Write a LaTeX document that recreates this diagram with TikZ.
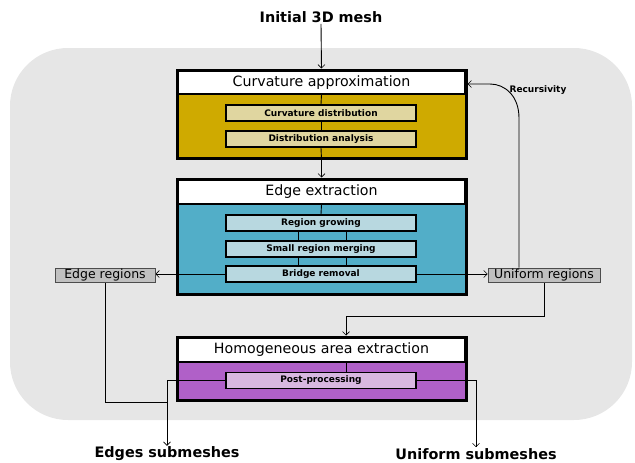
\documentclass[tikz,border=0pt]{standalone}
\usepackage{fontspec}
\setmainfont{DejaVu Sans}
\usetikzlibrary{arrows.meta}
\definecolor{bggray}{RGB}{230,230,230}
\definecolor{yellowbody}{RGB}{207,170,0}
\definecolor{yellowstep}{RGB}{224,214,160}
\definecolor{bluebody}{RGB}{82,174,200}
\definecolor{bluestep}{RGB}{184,216,224}
\definecolor{purplebody}{RGB}{176,96,200}
\definecolor{purplestep}{RGB}{216,184,224}
\definecolor{tagfill}{RGB}{192,192,192}
\pgfdeclarelayer{back}
\pgfdeclarelayer{mid}
\pgfsetlayers{back,mid,main}
\tikzset{
  stagebox/.style={draw=black, line width=3pt, minimum width=289pt, inner sep=0pt},
  titlebox/.style={draw=black, line width=1.5pt, fill=white, minimum width=287pt,
    inner sep=0pt, font=\fontsize{14.2}{16}\selectfont, anchor=north},
  stepbox/.style={draw=black, line width=1.5pt, minimum width=190pt, minimum height=16pt,
    inner sep=0pt, font=\bfseries\fontsize{9}{10}\selectfont},
  tagbox/.style={draw=black!70, line width=0.8pt, fill=tagfill, minimum height=14pt,
    inner sep=0pt, font=\fontsize{12.5}{13}\selectfont},
  biglabel/.style={font=\bfseries\fontsize{14.4}{16}\selectfont, inner sep=1pt},
  conn/.style={draw=black, line width=0.9pt},
  arr/.style={conn, -{Straight Barb[length=3.5pt,width=7pt,line width=0.6pt]}}
}
\begin{document}
\begin{tikzpicture}[x=1pt,y=-1pt]
\useasboundingbox (0,0) rectangle (635,463);

\begin{pgfonlayer}{back}
  \fill[bggray, rounded corners=58pt] (10,48) rectangle (632,420);
  % stage bodies
  \node[stagebox, fill=yellowbody, minimum height=88pt] (ca) at (321.5,114) {};
  \node[stagebox, fill=bluebody, minimum height=115pt] (ee) at (321.5,236.5) {};
  \node[stagebox, fill=purplebody, minimum height=63pt] (ha) at (321.5,368.5) {};
\end{pgfonlayer}

% stage titles
\node[titlebox, minimum height=23pt] (cat) at ([yshift=-1.5pt]ca.north) {Curvature approximation};
\node[titlebox, minimum height=24pt] (eet) at ([yshift=-1.5pt]ee.north) {Edge extraction};
\node[titlebox, minimum height=24pt] (hat) at ([yshift=-1.5pt]ha.north) {Homogeneous area extraction};

% inner steps
\node[stepbox, fill=yellowstep] (cd) at (321,113) {Curvature distribution};
\node[stepbox, fill=yellowstep] (da) at (321,139) {Distribution analysis};
\node[stepbox, fill=bluestep] (rg) at (321,223) {Region growing};
\node[stepbox, fill=bluestep] (sm) at (321,249) {Small region merging};
\node[stepbox, fill=bluestep] (br) at (321,274) {Bridge removal};
\node[stepbox, fill=purplestep] (pp) at (321,380.5) {Post-processing};

% side outputs
\node[tagbox, minimum width=100pt] (er) at (105,275) {Edge regions};
\node[tagbox, minimum width=112pt] (ur) at (544,275) {Uniform regions};

% external labels
\node[biglabel] (init) at (321,17) {Initial 3D mesh};
\node[biglabel] (esub) at (167,454) {Edges submeshes};
\node[biglabel] (usub) at (476,454) {Uniform submeshes};
\node[font=\bfseries\fontsize{9}{10}\selectfont] (rec) at (538,90) {Recursivity};

\coordinate (ejoin) at (167,402);
\coordinate (recturn) at (519,118);
\coordinate (recbend) at (490,84);
\coordinate (uturn) at (346,316);

\begin{pgfonlayer}{mid}
  \draw[arr] (init.south) -- (ca.north);
  \draw[conn] (cat.south) -- (cd.north);
  \draw[conn] (cd.south) -- (da.north);
  \draw[conn] (da.south) -- (ca.south);
  \draw[arr] (ca.south) -- (ee.north);
  \draw[conn] (eet.south) -- (rg.north);
  \draw[conn] ([xshift=-23pt]rg.south) -- ([xshift=-23pt]sm.north);
  \draw[conn] ([xshift=25pt]rg.south) -- ([xshift=25pt]sm.north);
  \draw[conn] ([xshift=-23pt]sm.south) -- ([xshift=-23pt]br.north);
  \draw[conn] ([xshift=25pt]sm.south) -- ([xshift=25pt]br.north);
  \draw[arr] (br.west) -- (br.west -| er.east);
  \draw[arr] (br.east) -- (br.east -| ur.west);
  % recursive loop back to curvature approximation
  \draw[arr] (ur.north -| recturn) -- (recturn)
     .. controls (519,96) and (505,84) .. (recbend) -- (recbend -| ca.east);
  % uniform regions feed the homogeneous area extraction
  \draw[arr] (ur.south) |- (uturn) -- (uturn |- ha.north);
  \draw[conn] (hat.south -| uturn) -- (pp.north -| uturn);
  % outputs
  \draw[conn] (er.south) |- (ejoin);
  \draw[arr] (pp.west) -| (esub.north);
  \draw[arr] (pp.east) -| (usub.north);
\end{pgfonlayer}
\end{tikzpicture}
\end{document}
